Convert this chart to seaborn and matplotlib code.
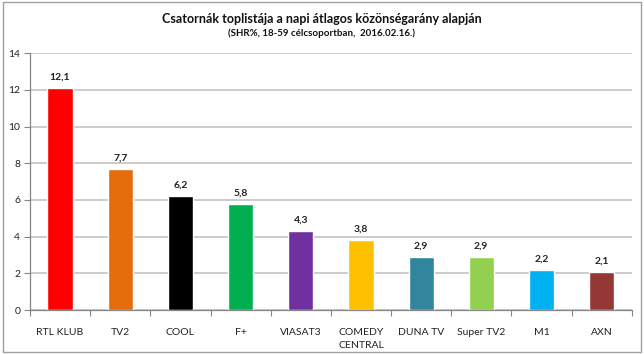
import pandas as pd
import matplotlib.pyplot as plt
import seaborn as sns
from matplotlib.patches import Rectangle

# adatok
csatornak = ['RTL KLUB', 'TV2', 'COOL', 'F+', 'VIASAT3', 'COMEDY\nCENTRAL',
             'DUNA TV', 'Super TV2', 'M1', 'AXN']
shr = [12.1, 7.7, 6.2, 5.8, 4.3, 3.8, 2.9, 2.9, 2.2, 2.1]
szinek = ['#FF0000', '#E46C0A', '#000000', '#00B050', '#7030A0', '#FFC000',
          '#31859C', '#92D050', '#00B0F0', '#953735']

df = pd.DataFrame({'csatorna': csatornak, 'shr': shr})

sns.set_theme(style="white")
plt.rcParams['font.family'] = ['Lato', 'DejaVu Sans']

fig = plt.figure(figsize=(6.44, 3.54), dpi=100)
ax = fig.add_axes([0.0466, 0.124, 0.9344, 0.726])

sns.barplot(data=df, x='csatorna', y='shr', hue='csatorna', palette=szinek,
            legend=False, width=0.42, saturation=1, ax=ax)

# értékcímkék
for i, v in enumerate(shr):
    ax.text(i, v + 0.35, f'{v:.1f}'.replace('.', ','), ha='center', va='bottom',
            fontsize=7.5, fontweight='bold', color='#222222')

ax.set_ylim(0, 14)
ax.set_xlim(-0.5, len(csatornak) - 0.5)
ax.set_yticks(range(0, 15, 2))
ax.yaxis.grid(True, color='#BFBFBF', linewidth=1.1)
ax.set_axisbelow(True)
ax.set_xlabel('')
ax.set_ylabel('')

for s in ['top', 'right']:
    ax.spines[s].set_visible(False)
for s in ['left', 'bottom']:
    ax.spines[s].set_color('#868686')
    ax.spines[s].set_linewidth(0.9)

ax.tick_params(axis='y', which='major', left=True, length=4, width=0.8,
               color='#868686', labelsize=7.5, labelcolor='#222222', pad=3)
ax.tick_params(axis='x', which='major', bottom=False, labelsize=7.5,
               labelcolor='#222222', pad=7)
for lbl in ax.get_xticklabels():
    lbl.set_linespacing(1.6)
ax.set_xticks([i - 0.5 for i in range(len(csatornak) + 1)], minor=True)
ax.tick_params(axis='x', which='minor', bottom=True, length=4, width=0.8,
               color='#868686')

fig.text(0.5, 0.945, 'Csatornák toplistája a napi átlagos közönségarány alapján',
         ha='center', va='center', fontsize=9, fontweight='bold', color='#111111')
fig.text(0.5, 0.905, '(SHR%, 18-59 célcsoportban,  2016.02.16.)',
         ha='center', va='center', fontsize=7, fontweight='bold', color='#111111')

fig.patches.append(Rectangle((0.004, 0.006), 0.992, 0.988, transform=fig.transFigure,
                             fill=False, edgecolor='#A0A0A0', linewidth=1))

fig.savefig('out.png', dpi=100)
